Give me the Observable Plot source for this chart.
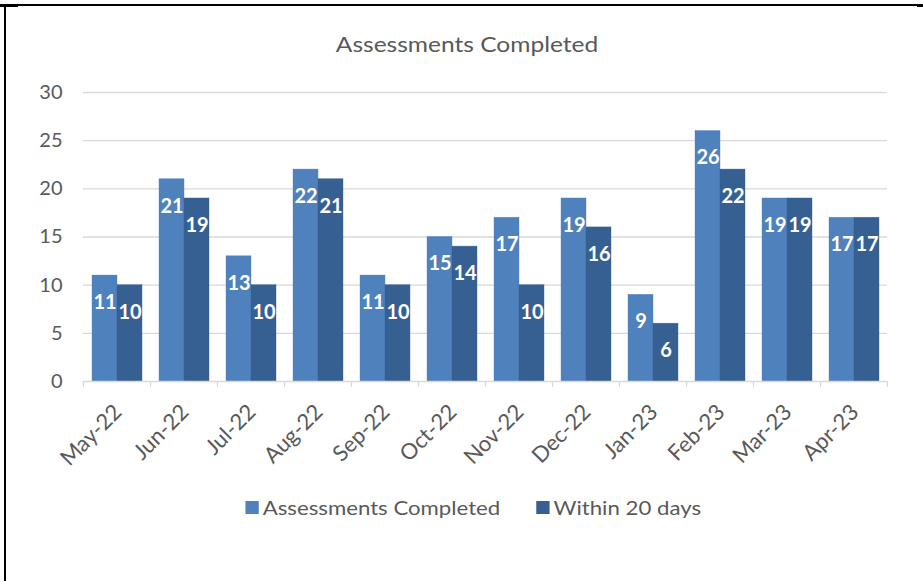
<!DOCTYPE html>
<html>
<head>
<meta charset="utf-8">
<script src="https://cdn.jsdelivr.net/npm/d3@7"></script>
<script src="https://cdn.jsdelivr.net/npm/@observablehq/plot@0.6"></script>
<style>
  html, body { margin: 0; padding: 0; background: #fff; }
  #wrap { position: relative; width: 923px; height: 581px; overflow: hidden; font-family: Lato, "Open Sans", sans-serif; }
  .line { position: absolute; background: #000; }
  #title { position: absolute; top: 30px; left: 0; width: 934px; text-align: center; font-size: 22px; color: #595959; transform: scaleX(1.115); transform-origin: 467px 0; }
  #chart { position: absolute; top: 60px; left: 0; }
  #legend { position: absolute; top: 495px; left: 0; width: 946px; display: flex; justify-content: center; gap: 32px; font-size: 20px; color: #595959; transform: scaleX(1.11); transform-origin: 473px 0; }
  #legend span.item { display: flex; align-items: center; gap: 4px; }
  #legend span.sw { width: 12px; height: 13px; display: inline-block; }
</style>
</head>
<body>
<div id="wrap">
  <div class="line" style="left:0;top:4px;width:920px;height:2px;"></div>
  <div class="line" style="left:4px;top:4px;width:2px;height:577px;"></div>
  <div class="line" style="left:0;top:4px;width:18px;height:3px;"></div>
  <div class="line" style="left:917px;top:4px;width:6px;height:3px;"></div>
  <div id="title">Assessments Completed</div>
  <div id="chart"></div>
  <div id="legend"></div>
</div>
<script>
const months = ["May-22","Jun-22","Jul-22","Aug-22","Sep-22","Oct-22","Nov-22","Dec-22","Jan-23","Feb-23","Mar-23","Apr-23"];
const seriesNames = ["Assessments Completed", "Within 20 days"];
const completed = [11, 21, 13, 22, 11, 15, 17, 19, 9, 26, 19, 17];
const within20 = [10, 19, 10, 21, 10, 14, 10, 16, 6, 22, 19, 17];
const colors = ["#4F81BD", "#376092"];
const yTicks = [0, 5, 10, 15, 20, 25, 30];

const data = [];
months.forEach((m, i) => {
  data.push({month: m, series: seriesNames[0], value: completed[i]});
  data.push({month: m, series: seriesNames[1], value: within20[i]});
});

const noLabel = () => "";

const chart = Plot.plot({
  width: 923,
  height: 420,
  marginTop: 32,
  marginBottom: 99,
  marginLeft: 83,
  marginRight: 36,
  style: {fontFamily: "Lato, 'Open Sans', sans-serif", background: "transparent"},
  fx: {domain: months, padding: 0, label: null},
  x: {domain: seriesNames, paddingInner: 0, paddingOuter: 0.333, axis: null},
  y: {domain: [0, 30], label: null},
  color: {domain: seriesNames, range: colors},
  marks: [
    Plot.ruleY(yTicks.filter(d => d > 0), {y: d => d, stroke: "#d9d9d9", strokeWidth: 1.3}),
    Plot.barY(data, {fx: "month", x: "series", y: "value", fill: "series", inset: 0, stroke: "series", strokeOpacity: 0.6, strokeWidth: 0.6}),
    Plot.text(data, {fx: "month", x: "series", y: "value", text: d => String(d.value), fill: "white", fontWeight: "bold", fontSize: 20, dy: 27}),
    Plot.ruleY([0], {stroke: "#d9d9d9", strokeWidth: 1.3}),
    Plot.axisY({ticks: yTicks, tickSize: 0, tickPadding: 21, fontSize: 20, fill: "#595959", label: null}),
    Plot.axisFx({anchor: "bottom", tickSize: 0, tickRotate: -45, fontSize: 22, fill: "#595959", tickPadding: 27, dx: 1, label: null}),
    Plot.axisFx({anchor: "bottom", tickSize: 6, tickFormat: noLabel, dx: -33.5, stroke: "#d9d9d9", strokeWidth: 1.3, label: null}),
    Plot.axisFx({anchor: "bottom", ticks: [months[months.length - 1]], tickSize: 6, tickFormat: noLabel, dx: 33.5, stroke: "#d9d9d9", strokeWidth: 1.3, label: null})
  ]
});
document.getElementById("chart").appendChild(chart);

const legend = document.getElementById("legend");
seriesNames.forEach((s, i) => {
  const item = document.createElement("span");
  item.className = "item";
  const sw = document.createElement("span");
  sw.className = "sw";
  sw.style.background = colors[i];
  item.appendChild(sw);
  item.appendChild(document.createTextNode(s));
  legend.appendChild(item);
});
</script>
</body>
</html>
